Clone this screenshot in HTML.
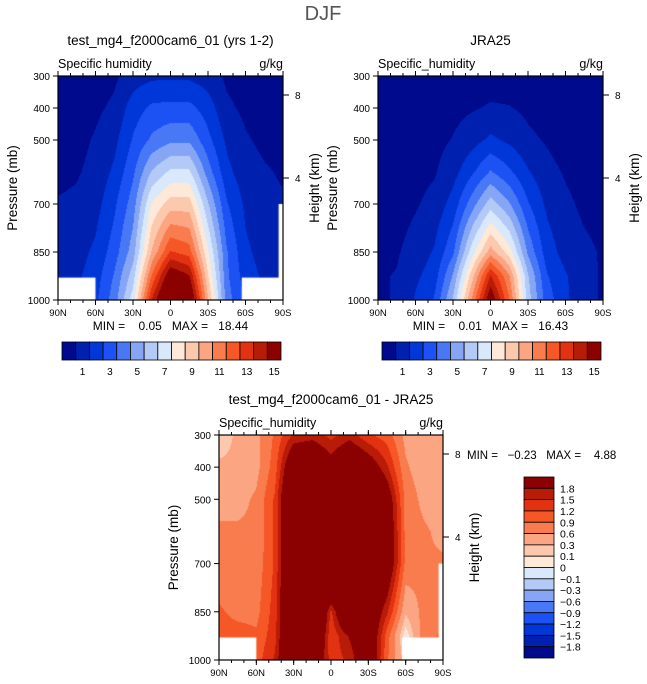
<!DOCTYPE html>
<html><head><meta charset="utf-8">
<style>
body{margin:0;background:#fff;width:647px;height:684px;overflow:hidden;position:relative;font-family:"Liberation Sans",sans-serif}
canvas{position:absolute}
svg{position:absolute;left:0;top:0}
text{font-family:"Liberation Sans",sans-serif;fill:#000;white-space:pre}
</style></head><body>
<canvas id="c0" width="225" height="224" style="left:58px;top:76px"></canvas>
<canvas id="c1" width="225" height="224" style="left:378px;top:76px"></canvas>
<canvas id="c2" width="224" height="225" style="left:219px;top:435px"></canvas>
<svg id="s" width="647" height="684">
<text x="323" y="20" font-size="20" text-anchor="middle" style="fill:#555">DJF</text>
</svg>
<script>
const lats=['90N','60N','30N','0','30S','60S','90S'];
const pressures=[300,400,500,600,700,850,925,1000];
const pTicks=[300,400,500,700,850,1000];
const hTicks=[8,4];
const levelsQ=[1,2,3,4,5,6,7,8,9,10,11,12,13,14,15];
const levelsD=[-1.8,-1.5,-1.2,-0.9,-0.6,-0.3,-0.1,0,0.1,0.3,0.6,0.9,1.2,1.5,1.8];
const cbLabelsQ=['1','3','5','7','9','11','13','15'];
const cbLabelsD=['1.8','1.5','1.2','0.9','0.6','0.3','0.1','0','\u22120.1','\u22120.3','\u22120.6','\u22120.9','\u22121.2','\u22121.5','\u22121.8'];
const colors=['#000a8c','#0021b0','#0037d8','#1c51f4','#4878f5','#86a6f5','#b3caf7','#d9e8fb','#fee8d8','#fcc9ae','#fba582','#f97c4f','#f65726','#e23211','#b81b06','#8b0000'];
// fields: rows = pressures, cols = lats 90N..90S every 15deg
const modelQ=[
[0.3,0.3,0.5,0.8,1.5,1.8,1.8,1.8,1.5,0.8,0.5,0.3,0.3],
[0.4,0.5,0.8,1.2,2.5,3.2,3.3,3.3,2.5,1.2,0.8,0.5,0.4],
[0.5,0.7,1.1,1.7,3.1,4.2,4.8,4.8,3.3,1.8,1.1,0.8,0.6],
[0.7,0.9,1.3,2.2,3.8,6.1,7.2,7.2,4.5,2.3,1.4,1.1,0.9],
[1.1,1.2,1.6,2.8,4.5,8.1,9.5,9.5,6.1,3.1,1.8,1.2,1.1],
[1.4,1.6,2.2,3.5,5.5,10.1,13.1,12.5,8.1,4.1,2.2,1.6,1.5],
[1.6,1.8,2.5,4.1,6.5,12.1,16.1,15.1,9.1,4.2,2.5,1.8,1.6],
[1.8,2.1,2.8,4.5,7.5,14.1,18,17,10.1,4.5,2.8,2.1,1.8]];
const jraQ=[
[0.3,0.3,0.3,0.3,0.4,0.5,0.6,0.5,0.4,0.3,0.3,0.3,0.3],
[0.3,0.3,0.4,0.5,0.7,0.9,1.1,1.05,0.8,0.6,0.4,0.3,0.3],
[0.4,0.4,0.5,0.7,1.05,1.6,2.2,1.8,1.2,0.9,0.6,0.4,0.3],
[0.5,0.5,0.7,0.9,1.6,2.8,4.1,3.2,2.1,1.3,0.9,0.6,0.5],
[0.6,0.6,0.9,1.3,2.4,4.5,6.5,5.1,3.1,1.8,1.2,0.8,0.7],
[0.8,0.9,1.4,2.1,3.8,7.5,10.5,8.5,4.8,2.5,1.6,1.2,0.9],
[0.9,1.05,1.8,2.5,5.1,9.5,14.1,11.1,6.1,3.1,2.1,1.3,0.9],
[0.9,1.05,2.1,3.1,6.1,11.1,16.1,12.1,6.5,3.5,2.2,1.3,0.9]];
const diffQ=[
[0.15,0.35,0.5,0.95,1.55,1.65,1.4,1.65,1.25,1.05,0.5,0.4,0.35],
[0.35,0.35,0.5,1.05,2.5,2.6,2.05,2.6,2.2,1.55,0.65,0.4,0.35],
[0.5,0.5,0.65,1.25,3,4,4,4,3,2.2,0.8,0.5,0.35],
[0.65,0.65,0.65,1.25,3,4,4,4,3,2.4,0.8,0.65,0.5],
[0.65,0.65,0.7,1.25,3,4,4,4,3,2.4,0.8,0.65,0.65],
[0.95,0.8,0.8,1.35,3,3.5,1.4,3,2.5,1.55,0.35,0.7,0.7],
[1.05,1.05,0.95,1.4,3,3,1.25,1.85,2.5,1.05,-0.05,0.8,0.95],
[1.05,1.05,1.05,1.55,3,2.5,1.35,1.55,2.5,0.95,0.15,0.8,0.8]];

const panels=[
 {x:58,y:76,w:225,h:224,field:modelQ,levels:levelsQ,title:'test_mg4_f2000cam6_01 (yrs 1-2)',sub:'Specific humidity',mn:'0.05',mx:'18.44',mask:true},
 {x:378,y:76,w:225,h:224,field:jraQ,levels:levelsQ,title:'JRA25',sub:'Specific_humidity',mn:'0.01',mx:'16.43',mask:false},
 {x:219,y:435,w:224,h:225,field:diffQ,levels:levelsD,title:'test_mg4_f2000cam6_01 - JRA25',sub:'Specific_humidity',mn:'\u22120.23',mx:'4.88',mask:true}];

function sample(f,lat,p){
  const fi=lat/15; let i=Math.min(11,Math.floor(fi)); const tx=fi-i;
  let j=0; while(j<6&&pressures[j+1]<p)j++;
  const ty=(p-pressures[j])/(pressures[j+1]-pressures[j]);
  const a=f[j][i]*(1-tx)+f[j][i+1]*tx, b=f[j+1][i]*(1-tx)+f[j+1][i+1]*tx;
  return a*(1-ty)+b*ty;}
function levelIdx(v,lv){let k=0;for(const l of lv) if(v>=l)k++;return k;}

const NS='http://www.w3.org/2000/svg';const svg=document.getElementById('s');
function T(x,y,s,fs,anchor,name,rot){const t=document.createElementNS(NS,'text');
 t.setAttribute('x',x);t.setAttribute('y',y);t.setAttribute('font-size',fs);t.setAttribute('text-anchor',anchor||'start');
 if(rot)t.setAttribute('transform','rotate(-90 '+x+' '+y+')');
 t.textContent=s;
 
 
 svg.appendChild(t);return t;}
function L(x1,y1,x2,y2,name,w){const l=document.createElementNS(NS,'line');
 l.setAttribute('x1',x1);l.setAttribute('y1',y1);l.setAttribute('x2',x2);l.setAttribute('y2',y2);
 l.setAttribute('stroke','#000');l.setAttribute('stroke-width',w||1);
 
 
 svg.appendChild(l);}
function R(x,y,w,h,fill,name){const r=document.createElementNS(NS,'rect');
 r.setAttribute('x',x);r.setAttribute('y',y);r.setAttribute('width',w);r.setAttribute('height',h);
 r.setAttribute('fill',fill);r.setAttribute('stroke','#000');r.setAttribute('stroke-width',0.8);
 
 
 svg.appendChild(r);}

panels.forEach((P,pi)=>{
 const cv=document.getElementById('c'+pi),ctx=cv.getContext('2d');
 const xs=lat=>lat/180*P.w, ys=p=>(p-300)/700*P.h;
 for(let py=0;py<P.h;py++)for(let px=0;px<P.w;px++){
   const lat=(px+0.5)/P.w*180,p=300+(py+0.5)/P.h*700;
   ctx.fillStyle=colors[levelIdx(sample(P.field,lat,p),P.levels)];ctx.fillRect(px,py,1,1);}
 if(P.mask){ctx.fillStyle='#fff';
   ctx.fillRect(0,ys(930),xs(30),P.h);ctx.fillRect(xs(147),ys(930),P.w,P.h);
   ctx.fillRect(xs(176.5),ys(700),P.w,P.h);}
 const r=document.createElementNS(NS,'rect');
 r.setAttribute('x',P.x);r.setAttribute('y',P.y);r.setAttribute('width',P.w);r.setAttribute('height',P.h);
 r.setAttribute('fill','none');r.setAttribute('stroke','#000');r.setAttribute('stroke-width',1.2);
 
 
 svg.appendChild(r);
 const cx=P.x+P.w/2;
 T(cx,P.y-31,P.title,13.5,'middle','panel-title');
 T(P.x,P.y-8,P.sub,12.5,'start','variable-label');
 T(P.x+P.w,P.y-8,'g/kg',12.5,'end','units-label');
 lats.forEach((s,i)=>{const x=P.x+i*30/180*P.w;
   L(x,P.y+P.h,x,P.y+P.h+5,'x-tick');L(x,P.y,x,P.y-5,'x-tick-top');
   T(x,P.y+P.h+16,s,9.5,'middle','x-tick-label');});
 for(let l=10;l<180;l+=10){const x=P.x+l/180*P.w;L(x,P.y+P.h,x,P.y+P.h+3,'x-minor-tick');L(x,P.y,x,P.y-3,'x-minor-tick-top');}
 pTicks.forEach(p=>{const y=P.y+(p-300)/700*P.h;L(P.x,y,P.x-5,y,'y-tick');T(P.x-8,y+4,String(p),10,'end','y-tick-label');});
 const hy={8:P.y+19,4:P.y+102};
 hTicks.forEach(h=>{L(P.x+P.w,hy[h],P.x+P.w+6,hy[h],'height-tick');T(P.x+P.w+12,hy[h]+4,String(h),10,'start','height-tick-label');});
 T(P.x-41,P.y+P.h/2,'Pressure (mb)',13.5,'middle','y-axis-title',true);
 T(P.x+P.w+36,P.y+P.h/2,'Height (km)',13.5,'middle','height-axis-title',true);
 if(pi<2){
   T(cx,P.y+P.h+30,'MIN =    '+P.mn+'   MAX =   '+P.mx,12,'middle','min-max-label');
   const bx=P.x+4,bw=(P.w-6)/16;
   colors.forEach((c,k)=>R(bx+k*bw,342,bw,18,c,'colorbar-box'));
   cbLabelsQ.forEach((s,k)=>T(bx+(2*k+1)*bw+bw/2,375,s,10,'middle','colorbar-label'));
 } else {
   T(467,459,'MIN =   '+P.mn+'   MAX =    '+P.mx,11.5,'start','min-max-label');
   const bh=(658-477)/16;
   colors.slice().reverse().forEach((c,k)=>R(524,477+k*bh,30,bh,c,'colorbar-box'));
   cbLabelsD.forEach((s,k)=>T(560,477+(k+1)*bh+4,s,10.5,'start','colorbar-label'));
 }
});
</script>
</body></html>
